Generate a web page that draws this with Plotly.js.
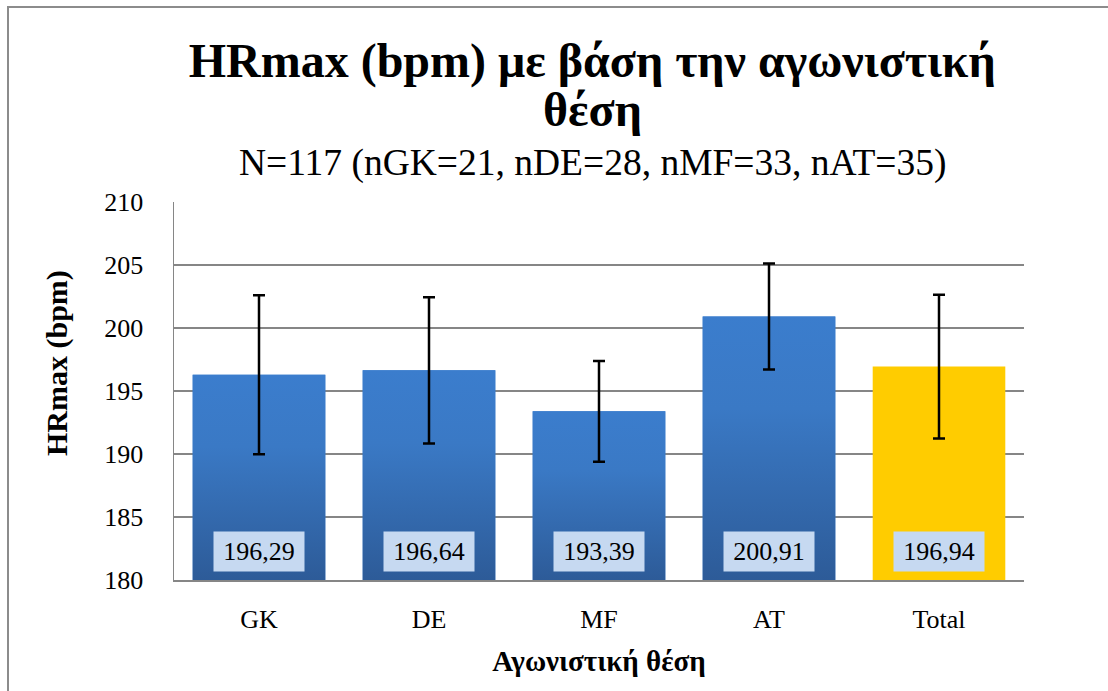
<!DOCTYPE html>
<html>
<head>
<meta charset="utf-8">
<script src="https://cdn.plot.ly/plotly-3.0.1.min.js"></script>
<style>html,body{margin:0;padding:0;background:#fff;}</style>
</head>
<body>
<div id="chart" style="width:1108px;height:691px;"></div>
<script>
const categories = ["GK", "DE", "MF", "AT", "Total"];
const means = [196.29, 196.64, 193.39, 200.91, 196.94];
const sds = [6.3, 5.8, 4.0, 4.2, 5.7];
const valueLabels = ["196,29", "196,64", "193,39", "200,91", "196,94"];
const barColors = ["#3A7CCB", "#3A7CCB", "#3A7CCB", "#3A7CCB", "#FFCC00"];
const gradientBars = [true, true, true, true, false];
const yTicks = [180, 185, 190, 195, 200, 205, 210];
const yMin = 180, yMax = 210;

const serif = "Liberation Serif";
const serifGreek = "Liberation Serif, DejaVu Serif, serif";
const pos = categories.map((_, i) => i);
const barWidth = 0.78;

// solid bars (base colours)
const barTrace = {
  type: "bar", x: pos, y: means, base: 0,
  width: barWidth,
  marker: { color: barColors, line: { width: 0 } },
  hoverinfo: "none", showlegend: false
};
// vertical gradient overlay for the blue bars, built from the same data
const gradTraces = [];
means.forEach((m, i) => {
  if (!gradientBars[i]) return;
  const x0 = pos[i] - barWidth / 2, x1 = pos[i] + barWidth / 2;
  gradTraces.push({
    type: "scatter", mode: "lines",
    x: [x0, x1, x1, x0, x0],
    y: [yMin, yMin, m, m, yMin],
    fill: "toself",
    line: { width: 0, color: "rgba(0,0,0,0)" },
    fillcolor: barColors[i],
    fillgradient: {
      type: "vertical",
      colorscale: [[0, "#2D5B98"], [0.65, "#3A79C5"], [1, "#3B7DCD"]]
    },
    hoverinfo: "skip", showlegend: false
  });
});
// error bars drawn on top
const errTrace = {
  type: "scatter", mode: "markers", x: pos, y: means,
  marker: { size: 1, color: "rgba(0,0,0,0)" },
  error_y: { type: "data", array: sds, visible: true, color: "#000", thickness: 2.5, width: 6 },
  hoverinfo: "skip", showlegend: false
};

const annotations = categories.map((c, i) => ({
  x: pos[i], y: yMin, xref: "x", yref: "y",
  text: valueLabels[i], showarrow: false,
  yanchor: "bottom", yshift: 8,
  width: 84, height: 33,
  bgcolor: "#C6D9F1", borderpad: 3,
  font: { family: serif, size: 26, color: "#000" }
}));
annotations.push({
  xref: "paper", yref: "paper", x: 0.492, y: (580 - 110) / 378,
  text: "<b>θέση</b>", showarrow: false, xanchor: "center", yanchor: "middle",
  font: { family: serifGreek, size: 48, color: "#000" }
});
annotations.push({
  xref: "paper", yref: "paper", x: 0.492, y: (580 - 163) / 378,
  text: "N=117 (nGK=21, nDE=28, nMF=33, nAT=35)",
  showarrow: false, xanchor: "center", yanchor: "middle",
  font: { family: serif, size: 37.5, color: "#000" }
});
annotations.push({
  xref: "paper", yref: "paper", x: (57 - 174) / 850, y: (580 - 363) / 378,
  text: "<b>HRmax (bpm)</b>", showarrow: false, textangle: -90,
  xanchor: "center", yanchor: "middle",
  font: { family: serif, size: 30, color: "#000" }
});

const layout = {
  width: 1108, height: 691,
  margin: { l: 174, r: 84, t: 202, b: 111 },
  paper_bgcolor: "#fff", plot_bgcolor: "#fff",
  showlegend: false,
  title: {
    text: "<b>HRmax (bpm) με βάση την αγωνιστική</b>",
    font: { family: serifGreek, size: 48, color: "#000" },
    x: 0.492, xref: "paper", xanchor: "center",
    yref: "container", y: 1 - 60 / 691, yanchor: "middle"
  },
  xaxis: {
    range: [-0.5, categories.length - 0.5],
    tickvals: pos, ticktext: categories,
    showgrid: false, zeroline: false,
    showline: true, linecolor: "#868686", linewidth: 1.5,
    ticks: "", ticklabelstandoff: 15,
    tickfont: { family: serif, size: 26, color: "#000" },
    title: { text: "<b>Αγωνιστική θέση</b>", font: { family: serifGreek, size: 29, color: "#000" }, standoff: 18 }
  },
  yaxis: {
    range: [yMin, yMax],
    tickvals: yTicks,
    showgrid: true, gridcolor: "#868686", gridwidth: 1.5,
    zeroline: false,
    showline: true, linecolor: "#868686", linewidth: 1.5,
    ticks: "", ticklabelstandoff: 24,
    tickfont: { family: serif, size: 26, color: "#000" }
  },
  annotations: annotations,
  shapes: [{
    type: "rect", xref: "paper", yref: "paper",
    x0: (8 - 174) / 850, x1: 1.3, y0: -0.4, y1: (580 - 7) / 378,
    line: { color: "#8C8C8C", width: 2 }, fillcolor: "rgba(0,0,0,0)", layer: "below"
  }]
};

Plotly.newPlot("chart", [barTrace, ...gradTraces, errTrace], layout, { staticPlot: true });
</script>
</body>
</html>
